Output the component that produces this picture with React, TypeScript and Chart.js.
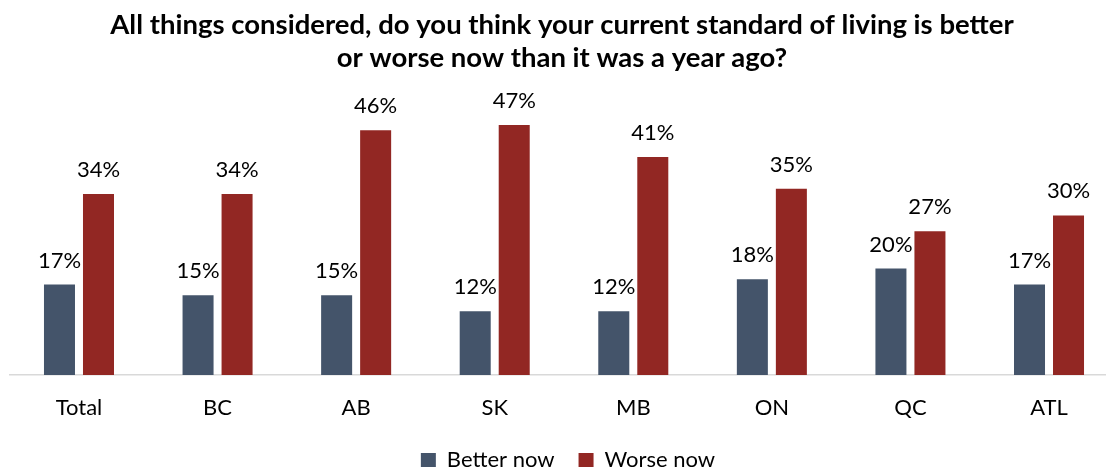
import { useEffect, useRef } from 'react';
import { Chart, registerables } from 'chart.js';

Chart.register(...registerables);

const categories = ['Total', 'BC', 'AB', 'SK', 'MB', 'ON', 'QC', 'ATL'];
const betterNow = [17, 15, 15, 12, 12, 18, 20, 17];
const worseNow = [34, 34, 46, 47, 41, 35, 27, 30];
const seriesNames = ['Better now', 'Worse now'];
const titleLines = [
  'All things considered, do you think your current standard of living is better',
  'or worse now than it was a year ago?',
];

const FONT = 'Lato, "Open Sans", sans-serif';
const BLUE = '#44546A';
const RED = '#922723';

const placeScales = {
  id: 'placeScales',
  afterLayout(chart: any) {
    const x = chart.scales.x;
    const y = chart.scales.y;
    const start = 9.7;
    const len = 1108.6;
    x._startPixel = start;
    x._length = len;
    x._endPixel = start + len;
    x.left = 10;
    x.right = 1106;
    const h = x.bottom - x.top;
    x.top = 375;
    x.bottom = 375 + h;
    y._startPixel = 109;
    y._endPixel = 375;
    y._length = 266;
    const lg = chart.legend;
    if (lg) {
      const lh = lg.bottom - lg.top;
      lg.top = 425;
      lg.bottom = 425 + lh;
      lg.left += 15;
      lg.right += 15;
    }
    const tb = chart.titleBlock;
    if (tb) {
      tb.left += 9;
      tb.right += 9;
    }
  },
};

const valueLabels = {
  id: 'valueLabels',
  afterDatasetsDraw(chart: any) {
    const ctx = chart.ctx;
    ctx.save();
    ctx.font = `22px ${FONT}`;
    ctx.fillStyle = '#000';
    ctx.textAlign = 'center';
    ctx.textBaseline = 'alphabetic';
    chart.data.datasets.forEach((ds: any, i: number) => {
      chart.getDatasetMeta(i).data.forEach((bar: any, j: number) => {
        ctx.fillText(`${ds.data[j]}%`, bar.x, bar.y - 17);
      });
    });
    ctx.restore();
  },
};

export default function App() {
  const ref = useRef<HTMLCanvasElement>(null);
  useEffect(() => {
    if (!ref.current) return;
    const chart = new Chart(ref.current, {
      type: 'bar',
      data: {
        labels: categories,
        datasets: [
          { label: seriesNames[0], data: betterNow, backgroundColor: BLUE, clip: false as any },
          { label: seriesNames[1], data: worseNow, backgroundColor: RED, clip: false as any },
        ],
      },
      options: {
        responsive: false,
        animation: false,
        categoryPercentage: 0.563,
        barPercentage: 0.795,
        layout: { padding: 0 },
        plugins: {
          title: {
            display: true,
            text: titleLines,
            color: '#000',
            font: { family: FONT, size: 27.5, weight: 'bold', lineHeight: 1.2 },
            padding: { top: 9, bottom: 10 },
          },
          legend: {
            position: 'bottom',
            labels: {
              boxWidth: 15,
              boxHeight: 14,
              color: '#000',
              font: { family: FONT, size: 22 },
              padding: 24,
            },
          },
          tooltip: { enabled: false },
        },
        scales: {
          x: {
            grid: { display: false, drawTicks: false },
            border: { display: true, color: '#D9D9D9', width: 1.5 },
            ticks: { color: '#000', font: { family: FONT, size: 22 }, padding: 20 },
          },
          y: {
            display: false,
            min: 0,
            max: 50,
          },
        },
      } as any,
      plugins: [placeScales, valueLabels],
    });
    return () => chart.destroy();
  }, []);
  return (
    <div style={{ position: 'absolute', left: 0, top: 0, width: '1106px', height: '469px', background: '#fff' }}>
      <canvas ref={ref} width={1106} height={469} style={{ width: '1106px', height: '469px' }} />
    </div>
  );
}
